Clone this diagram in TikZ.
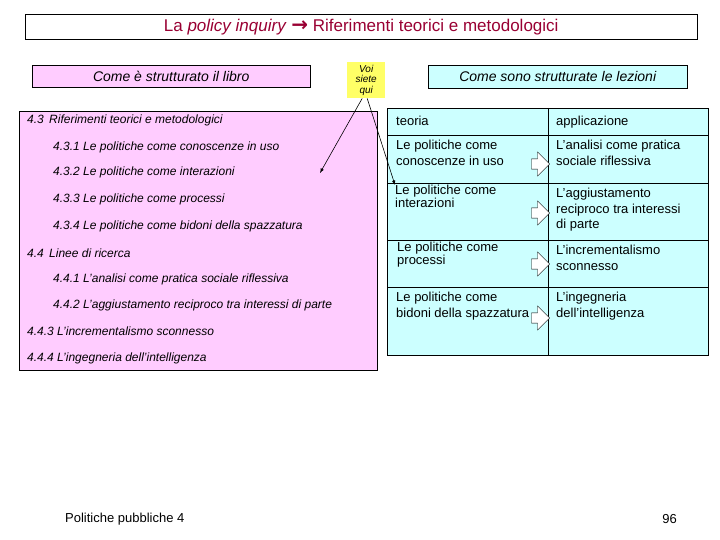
\documentclass[tikz,border=0pt]{standalone}
\usepackage{fontspec}
\setmainfont{Liberation Sans}
\newfontfamily\djv{DejaVu Sans}
\usetikzlibrary{shapes.arrows}
\definecolor{pinkb}{HTML}{FFCCFF}
\definecolor{cyanb}{HTML}{CCFFFF}
\definecolor{yel}{HTML}{FFFF66}
\definecolor{tred}{HTML}{990033}
\tikzset{
 item/.style={anchor=west,font=\fontsize{12}{13}\selectfont\itshape,inner sep=0pt},
 cell/.style={anchor=north west,font=\fontsize{13}{15.5}\selectfont,align=left,inner sep=0pt},
 harrow/.style={single arrow,draw,fill=white,minimum height=18pt,minimum width=24pt,single arrow head extend=3pt,inner sep=2pt},
 pointer/.style={-latex,semithick}
}
\begin{document}
\begin{tikzpicture}[x=1pt,y=-1pt]
\useasboundingbox (0,0) rectangle (720,540);
\fill[white] (0,0) rectangle (720,540);
\node[draw,minimum width=672pt,minimum height=25pt,anchor=north west,inner sep=0pt] (title) at (25,14)
 {\fontsize{17}{20}\selectfont\color{tred}La \textit{policy inquiry} {\djv\bfseries\fontsize{20}{20}\selectfont →} Riferimenti teorici e metodologici};
\node[draw,fill=pinkb,minimum width=278pt,minimum height=22pt,anchor=north west,inner sep=0pt] (lh) at (32,65)
 {\fontsize{14}{16}\selectfont\itshape Come è strutturato il libro};
\node[draw,fill=cyanb,minimum width=259pt,minimum height=23pt,anchor=north west,inner sep=0pt] (rh) at (428,65)
 {\fontsize{14}{16}\selectfont\itshape Come sono strutturate le lezioni};
\node[fill=yel,minimum width=38pt,minimum height=36pt,anchor=north west,inner sep=0pt,align=center,
 font=\fontsize{10}{10.5}\selectfont\itshape] (voi) at (347,62) {Voi\\siete\\qui};
\draw[fill=pinkb] (19,111) rectangle (377,370);
\node[item] (i0) at (27,120) {4.3\, Riferimenti teorici e metodologici};
\node[item] (i1) at (53,147) {4.3.1 Le politiche come conoscenze in uso};
\node[item] (i2) at (53,172) {4.3.2 Le politiche come interazioni};
\node[item] (i3) at (53,199) {4.3.3 Le politiche come processi};
\node[item] (i4) at (53,226) {4.3.4 Le politiche come bidoni della spazzatura};
\node[item] (i5) at (27,253) {4.4\, Linee di ricerca};
\node[item] (i6) at (53,279) {4.4.1 L'analisi come pratica sociale riflessiva};
\node[item] (i7) at (53,305) {4.4.2 L'aggiustamento reciproco tra interessi di parte};
\node[item] (i8) at (27,331) {4.4.3 L'incrementalismo sconnesso};
\node[item] (i9) at (27,358) {4.4.4 L'ingegneria dell'intelligenza};
\draw[fill=cyanb,thick] (387,108) rectangle (708,355);
\draw (548,108) -- (548,355);
\foreach \y in {135,183,240,287} \draw (387,\y) -- (708,\y);
\node[cell] (t0) at (396,116) {teoria};
\node[cell] (a0) at (556,116) {applicazione};
\node[cell] (t1) at (396,140) {Le politiche come\\conoscenze in uso};
\node[cell] (a1) at (556,140) {L'analisi come pratica\\sociale riflessiva};
\node[cell] (t2) at (395,185) {Le politiche come\\[-3pt]interazioni};
\node[cell] (a2) at (556,188) {L'aggiustamento\\reciproco tra interessi\\di parte};
\node[cell] (t3) at (397,242) {Le politiche come\\[-3pt]processi};
\node[cell] (a3) at (556,245) {L'incrementalismo\\sconnesso};
\node[cell] (t4) at (396,292) {Le politiche come\\bidoni della spazzatura};
\node[cell] (a4) at (556,292) {L'ingegneria\\dell'intelligenza};
\node[harrow] (h1) at (538,164) {};
\node[harrow] (h2) at (538,213) {};
\node[harrow] (h3) at (538,264) {};
\node[harrow] (h4) at (538,318) {};
\coordinate (pl) at (320,173);
\draw[pointer] ([xshift=-4pt]voi.south) -- (pl);
\draw[pointer] ([xshift=1pt]voi.south) -- (t2.north west);
\node[anchor=west,font=\fontsize{13}{15}\selectfont,inner sep=0pt] (foot) at (65,519) {Politiche pubbliche 4};
\node[anchor=east,font=\fontsize{13}{15}\selectfont,inner sep=0pt] (pg) at (677,519) {96};
\end{tikzpicture}
\end{document}
